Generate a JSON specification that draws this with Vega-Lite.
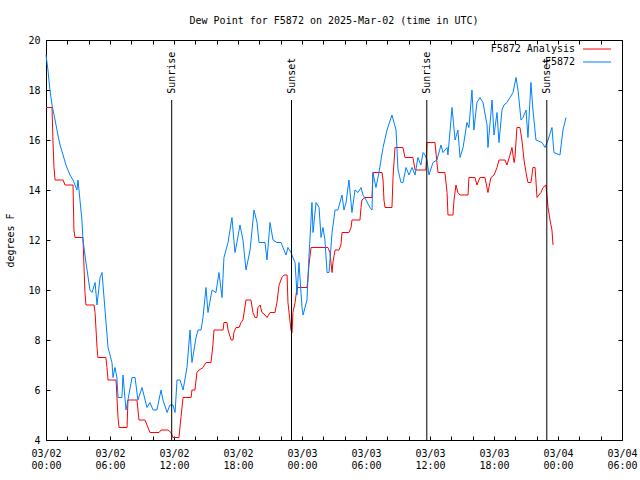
{
  "$schema": "https://vega.github.io/schema/vega-lite/v6.json",
  "width": 576,
  "height": 400,
  "autosize": {"type": "none"},
  "padding": {"left": 46, "top": 40, "right": 18, "bottom": 40},
  "background": "white",
  "title": {"text": "Dew Point for F5872 on 2025-Mar-02 (time in UTC)", "font": "DejaVu Sans Mono", "fontSize": 10, "fontWeight": "normal", "color": "black", "offset": 9, "anchor": "middle"},
  "config": {
    "view": {"stroke": "black", "strokeWidth": 1},
    "font": "DejaVu Sans Mono"
  },
  "datasets": {
    "ana": [
      {"t": "2025-03-02T00:00Z", "v": 17.3}, {"t": "2025-03-02T00:34Z", "v": 17.3}, {"t": "2025-03-02T00:39Z", "v": 16.0}, {"t": "2025-03-02T00:45Z", "v": 14.9}, {"t": "2025-03-02T00:51Z", "v": 14.4},
      {"t": "2025-03-02T01:36Z", "v": 14.4}, {"t": "2025-03-02T01:47Z", "v": 14.2}, {"t": "2025-03-02T02:32Z", "v": 14.2}, {"t": "2025-03-02T02:37Z", "v": 12.4}, {"t": "2025-03-02T02:43Z", "v": 12.1},
      {"t": "2025-03-02T03:28Z", "v": 12.1}, {"t": "2025-03-02T03:39Z", "v": 9.9}, {"t": "2025-03-02T03:45Z", "v": 9.4}, {"t": "2025-03-02T04:30Z", "v": 9.4}, {"t": "2025-03-02T04:36Z", "v": 9.1},
      {"t": "2025-03-02T04:47Z", "v": 7.7}, {"t": "2025-03-02T04:52Z", "v": 7.3}, {"t": "2025-03-02T05:37Z", "v": 7.3}, {"t": "2025-03-02T05:43Z", "v": 6.9}, {"t": "2025-03-02T05:49Z", "v": 6.4},
      {"t": "2025-03-02T06:34Z", "v": 6.4}, {"t": "2025-03-02T06:45Z", "v": 4.9}, {"t": "2025-03-02T06:51Z", "v": 4.5}, {"t": "2025-03-02T07:36Z", "v": 4.5}, {"t": "2025-03-02T07:41Z", "v": 5.6},
      {"t": "2025-03-02T08:32Z", "v": 5.6}, {"t": "2025-03-02T08:43Z", "v": 4.8}, {"t": "2025-03-02T09:17Z", "v": 4.8}, {"t": "2025-03-02T09:45Z", "v": 4.3}, {"t": "2025-03-02T10:36Z", "v": 4.3},
      {"t": "2025-03-02T10:47Z", "v": 4.4}, {"t": "2025-03-02T11:26Z", "v": 4.4}, {"t": "2025-03-02T11:43Z", "v": 4.3}, {"t": "2025-03-02T11:54Z", "v": 4.1}, {"t": "2025-03-02T12:28Z", "v": 4.1},
      {"t": "2025-03-02T12:39Z", "v": 4.9}, {"t": "2025-03-02T12:51Z", "v": 5.7}, {"t": "2025-03-02T13:36Z", "v": 5.7}, {"t": "2025-03-02T13:41Z", "v": 6.0}, {"t": "2025-03-02T13:58Z", "v": 6.0},
      {"t": "2025-03-02T14:09Z", "v": 6.7}, {"t": "2025-03-02T14:21Z", "v": 6.8}, {"t": "2025-03-02T14:43Z", "v": 6.9}, {"t": "2025-03-02T15:00Z", "v": 7.1}, {"t": "2025-03-02T15:28Z", "v": 7.1},
      {"t": "2025-03-02T15:39Z", "v": 7.8}, {"t": "2025-03-02T15:45Z", "v": 8.4}, {"t": "2025-03-02T16:36Z", "v": 8.4}, {"t": "2025-03-02T16:41Z", "v": 8.7}, {"t": "2025-03-02T16:58Z", "v": 8.7},
      {"t": "2025-03-02T17:04Z", "v": 8.4}, {"t": "2025-03-02T17:21Z", "v": 8.0}, {"t": "2025-03-02T17:32Z", "v": 8.0}, {"t": "2025-03-02T17:37Z", "v": 8.3}, {"t": "2025-03-02T17:49Z", "v": 8.5},
      {"t": "2025-03-02T18:06Z", "v": 8.5}, {"t": "2025-03-02T18:17Z", "v": 8.7}, {"t": "2025-03-02T18:28Z", "v": 8.8}, {"t": "2025-03-02T18:45Z", "v": 9.6}, {"t": "2025-03-02T19:13Z", "v": 9.6},
      {"t": "2025-03-02T19:24Z", "v": 9.1}, {"t": "2025-03-02T19:36Z", "v": 8.9}, {"t": "2025-03-02T19:47Z", "v": 8.9}, {"t": "2025-03-02T19:52Z", "v": 9.3}, {"t": "2025-03-02T20:04Z", "v": 9.4},
      {"t": "2025-03-02T20:15Z", "v": 9.1}, {"t": "2025-03-02T20:32Z", "v": 9.0}, {"t": "2025-03-02T20:43Z", "v": 8.9}, {"t": "2025-03-02T21:00Z", "v": 9.1}, {"t": "2025-03-02T21:28Z", "v": 9.1},
      {"t": "2025-03-02T21:39Z", "v": 9.5}, {"t": "2025-03-02T21:51Z", "v": 10.2}, {"t": "2025-03-02T22:07Z", "v": 10.5}, {"t": "2025-03-02T22:19Z", "v": 10.6}, {"t": "2025-03-02T22:36Z", "v": 10.6},
      {"t": "2025-03-02T22:41Z", "v": 9.5}, {"t": "2025-03-02T22:58Z", "v": 8.4}, {"t": "2025-03-02T23:04Z", "v": 8.3}, {"t": "2025-03-02T23:09Z", "v": 9.1}, {"t": "2025-03-02T23:21Z", "v": 9.5},
      {"t": "2025-03-02T23:32Z", "v": 10.1}, {"t": "2025-03-03T00:28Z", "v": 10.1}, {"t": "2025-03-03T00:34Z", "v": 10.5}, {"t": "2025-03-03T00:39Z", "v": 11.0}, {"t": "2025-03-03T00:51Z", "v": 11.7},
      {"t": "2025-03-03T02:26Z", "v": 11.7}, {"t": "2025-03-03T02:37Z", "v": 11.5}, {"t": "2025-03-03T02:49Z", "v": 10.7}, {"t": "2025-03-03T02:54Z", "v": 11.1}, {"t": "2025-03-03T03:06Z", "v": 11.6},
      {"t": "2025-03-03T03:28Z", "v": 11.6}, {"t": "2025-03-03T03:39Z", "v": 11.8}, {"t": "2025-03-03T03:45Z", "v": 12.3}, {"t": "2025-03-03T04:24Z", "v": 12.3}, {"t": "2025-03-03T04:36Z", "v": 12.5},
      {"t": "2025-03-03T04:41Z", "v": 12.8}, {"t": "2025-03-03T05:26Z", "v": 12.8}, {"t": "2025-03-03T05:32Z", "v": 13.3}, {"t": "2025-03-03T05:37Z", "v": 13.6}, {"t": "2025-03-03T05:54Z", "v": 13.7},
      {"t": "2025-03-03T06:34Z", "v": 13.7}, {"t": "2025-03-03T06:39Z", "v": 14.7}, {"t": "2025-03-03T07:30Z", "v": 14.7}, {"t": "2025-03-03T07:36Z", "v": 14.4}, {"t": "2025-03-03T07:41Z", "v": 13.6},
      {"t": "2025-03-03T07:47Z", "v": 13.3}, {"t": "2025-03-03T08:26Z", "v": 13.3}, {"t": "2025-03-03T08:32Z", "v": 14.5}, {"t": "2025-03-03T08:43Z", "v": 15.7}, {"t": "2025-03-03T09:28Z", "v": 15.7},
      {"t": "2025-03-03T09:39Z", "v": 15.3}, {"t": "2025-03-03T10:24Z", "v": 15.3}, {"t": "2025-03-03T10:36Z", "v": 14.8}, {"t": "2025-03-03T11:37Z", "v": 14.8}, {"t": "2025-03-03T11:43Z", "v": 15.9},
      {"t": "2025-03-03T12:28Z", "v": 15.9}, {"t": "2025-03-03T12:39Z", "v": 15.1}, {"t": "2025-03-03T12:45Z", "v": 14.7}, {"t": "2025-03-03T13:24Z", "v": 14.7}, {"t": "2025-03-03T13:36Z", "v": 13.9},
      {"t": "2025-03-03T13:41Z", "v": 13.0}, {"t": "2025-03-03T14:09Z", "v": 13.0}, {"t": "2025-03-03T14:15Z", "v": 13.6}, {"t": "2025-03-03T14:26Z", "v": 14.2}, {"t": "2025-03-03T14:37Z", "v": 13.9},
      {"t": "2025-03-03T14:49Z", "v": 13.8}, {"t": "2025-03-03T15:34Z", "v": 13.8}, {"t": "2025-03-03T15:39Z", "v": 14.5}, {"t": "2025-03-03T16:13Z", "v": 14.5}, {"t": "2025-03-03T16:24Z", "v": 14.2},
      {"t": "2025-03-03T16:41Z", "v": 14.5}, {"t": "2025-03-03T17:09Z", "v": 14.5}, {"t": "2025-03-03T17:26Z", "v": 13.9}, {"t": "2025-03-03T17:37Z", "v": 14.3}, {"t": "2025-03-03T17:43Z", "v": 14.5},
      {"t": "2025-03-03T18:00Z", "v": 14.6}, {"t": "2025-03-03T18:17Z", "v": 14.9}, {"t": "2025-03-03T18:28Z", "v": 15.2}, {"t": "2025-03-03T19:02Z", "v": 15.2}, {"t": "2025-03-03T19:13Z", "v": 15.0},
      {"t": "2025-03-03T19:30Z", "v": 15.4}, {"t": "2025-03-03T19:41Z", "v": 15.7}, {"t": "2025-03-03T19:53Z", "v": 15.1}, {"t": "2025-03-03T19:58Z", "v": 15.3}, {"t": "2025-03-03T20:09Z", "v": 16.5},
      {"t": "2025-03-03T20:26Z", "v": 16.5}, {"t": "2025-03-03T20:37Z", "v": 16.0}, {"t": "2025-03-03T20:49Z", "v": 15.2}, {"t": "2025-03-03T21:00Z", "v": 14.7}, {"t": "2025-03-03T21:11Z", "v": 14.3},
      {"t": "2025-03-03T21:28Z", "v": 14.3}, {"t": "2025-03-03T21:39Z", "v": 14.9}, {"t": "2025-03-03T21:51Z", "v": 14.9}, {"t": "2025-03-03T22:02Z", "v": 13.7}, {"t": "2025-03-03T22:24Z", "v": 13.9},
      {"t": "2025-03-03T22:36Z", "v": 14.1}, {"t": "2025-03-03T22:52Z", "v": 14.2}, {"t": "2025-03-03T23:04Z", "v": 13.3}, {"t": "2025-03-03T23:15Z", "v": 12.8}, {"t": "2025-03-03T23:26Z", "v": 12.4},
      {"t": "2025-03-03T23:32Z", "v": 11.8}
    ],
    "obs": [
      {"t": "2025-03-02T00:00Z", "v": 19.4}, {"t": "2025-03-02T00:11Z", "v": 18.8}, {"t": "2025-03-02T00:22Z", "v": 18.0}, {"t": "2025-03-02T00:34Z", "v": 17.4}, {"t": "2025-03-02T00:51Z", "v": 16.8},
      {"t": "2025-03-02T01:07Z", "v": 16.2}, {"t": "2025-03-02T01:19Z", "v": 15.8}, {"t": "2025-03-02T01:36Z", "v": 15.4}, {"t": "2025-03-02T01:52Z", "v": 15.0}, {"t": "2025-03-02T02:15Z", "v": 14.6},
      {"t": "2025-03-02T02:32Z", "v": 14.4}, {"t": "2025-03-02T02:43Z", "v": 14.2}, {"t": "2025-03-02T02:54Z", "v": 14.0}, {"t": "2025-03-02T03:00Z", "v": 14.4}, {"t": "2025-03-02T03:11Z", "v": 13.6},
      {"t": "2025-03-02T03:22Z", "v": 12.8}, {"t": "2025-03-02T03:28Z", "v": 12.0}, {"t": "2025-03-02T03:39Z", "v": 11.4}, {"t": "2025-03-02T03:51Z", "v": 10.8}, {"t": "2025-03-02T04:07Z", "v": 10.0},
      {"t": "2025-03-02T04:19Z", "v": 9.9}, {"t": "2025-03-02T04:36Z", "v": 10.3}, {"t": "2025-03-02T04:47Z", "v": 9.4}, {"t": "2025-03-02T05:04Z", "v": 10.5}, {"t": "2025-03-02T05:15Z", "v": 10.7},
      {"t": "2025-03-02T05:32Z", "v": 9.2}, {"t": "2025-03-02T05:49Z", "v": 7.7}, {"t": "2025-03-02T06:00Z", "v": 7.4}, {"t": "2025-03-02T06:11Z", "v": 7.1}, {"t": "2025-03-02T06:17Z", "v": 6.5},
      {"t": "2025-03-02T06:28Z", "v": 6.9}, {"t": "2025-03-02T06:39Z", "v": 6.5}, {"t": "2025-03-02T06:45Z", "v": 5.7}, {"t": "2025-03-02T07:07Z", "v": 5.7}, {"t": "2025-03-02T07:13Z", "v": 6.6},
      {"t": "2025-03-02T07:30Z", "v": 5.2}, {"t": "2025-03-02T07:41Z", "v": 5.6}, {"t": "2025-03-02T08:04Z", "v": 6.5}, {"t": "2025-03-02T08:21Z", "v": 6.5}, {"t": "2025-03-02T08:37Z", "v": 5.6},
      {"t": "2025-03-02T09:00Z", "v": 6.1}, {"t": "2025-03-02T09:28Z", "v": 5.3}, {"t": "2025-03-02T09:45Z", "v": 5.5}, {"t": "2025-03-02T10:02Z", "v": 5.2}, {"t": "2025-03-02T10:24Z", "v": 5.2},
      {"t": "2025-03-02T10:47Z", "v": 6.0}, {"t": "2025-03-02T10:58Z", "v": 5.6}, {"t": "2025-03-02T11:21Z", "v": 5.1}, {"t": "2025-03-02T11:37Z", "v": 5.4}, {"t": "2025-03-02T11:54Z", "v": 5.4},
      {"t": "2025-03-02T12:06Z", "v": 5.1}, {"t": "2025-03-02T12:17Z", "v": 6.4}, {"t": "2025-03-02T12:34Z", "v": 6.4}, {"t": "2025-03-02T12:51Z", "v": 6.0}, {"t": "2025-03-02T13:13Z", "v": 6.9},
      {"t": "2025-03-02T13:30Z", "v": 8.4}, {"t": "2025-03-02T13:41Z", "v": 7.1}, {"t": "2025-03-02T14:04Z", "v": 8.1}, {"t": "2025-03-02T14:15Z", "v": 8.4}, {"t": "2025-03-02T14:32Z", "v": 8.4},
      {"t": "2025-03-02T14:43Z", "v": 8.9}, {"t": "2025-03-02T15:00Z", "v": 10.1}, {"t": "2025-03-02T15:11Z", "v": 9.1}, {"t": "2025-03-02T15:34Z", "v": 10.0}, {"t": "2025-03-02T15:56Z", "v": 9.9},
      {"t": "2025-03-02T16:13Z", "v": 10.7}, {"t": "2025-03-02T16:30Z", "v": 9.7}, {"t": "2025-03-02T16:41Z", "v": 11.3}, {"t": "2025-03-02T17:04Z", "v": 11.9}, {"t": "2025-03-02T17:26Z", "v": 12.9},
      {"t": "2025-03-02T17:43Z", "v": 11.5}, {"t": "2025-03-02T17:54Z", "v": 11.9}, {"t": "2025-03-02T18:11Z", "v": 12.6}, {"t": "2025-03-02T18:28Z", "v": 12.0}, {"t": "2025-03-02T18:45Z", "v": 10.8},
      {"t": "2025-03-02T19:08Z", "v": 11.6}, {"t": "2025-03-02T19:19Z", "v": 12.4}, {"t": "2025-03-02T19:30Z", "v": 13.2}, {"t": "2025-03-02T19:47Z", "v": 12.7}, {"t": "2025-03-02T19:58Z", "v": 11.9},
      {"t": "2025-03-02T20:32Z", "v": 11.9}, {"t": "2025-03-02T20:43Z", "v": 11.2}, {"t": "2025-03-02T21:00Z", "v": 12.7}, {"t": "2025-03-02T21:17Z", "v": 12.0}, {"t": "2025-03-02T21:39Z", "v": 11.9},
      {"t": "2025-03-02T22:02Z", "v": 11.9}, {"t": "2025-03-02T22:30Z", "v": 11.4}, {"t": "2025-03-02T22:41Z", "v": 11.7}, {"t": "2025-03-02T22:58Z", "v": 11.5}, {"t": "2025-03-02T23:09Z", "v": 11.3},
      {"t": "2025-03-02T23:21Z", "v": 11.1}, {"t": "2025-03-02T23:32Z", "v": 9.8}, {"t": "2025-03-02T23:43Z", "v": 11.1}, {"t": "2025-03-03T00:00Z", "v": 9.3}, {"t": "2025-03-03T00:06Z", "v": 9.0},
      {"t": "2025-03-03T00:28Z", "v": 9.6}, {"t": "2025-03-03T00:39Z", "v": 11.3}, {"t": "2025-03-03T00:56Z", "v": 13.5}, {"t": "2025-03-03T01:02Z", "v": 12.3}, {"t": "2025-03-03T01:19Z", "v": 13.5},
      {"t": "2025-03-03T01:36Z", "v": 13.3}, {"t": "2025-03-03T01:47Z", "v": 12.1}, {"t": "2025-03-03T01:58Z", "v": 12.5}, {"t": "2025-03-03T02:09Z", "v": 12.0}, {"t": "2025-03-03T02:21Z", "v": 10.7},
      {"t": "2025-03-03T02:32Z", "v": 10.7}, {"t": "2025-03-03T02:49Z", "v": 12.3}, {"t": "2025-03-03T03:06Z", "v": 13.2}, {"t": "2025-03-03T03:22Z", "v": 13.2}, {"t": "2025-03-03T03:45Z", "v": 13.8},
      {"t": "2025-03-03T03:56Z", "v": 13.2}, {"t": "2025-03-03T04:08Z", "v": 13.5}, {"t": "2025-03-03T04:24Z", "v": 14.4}, {"t": "2025-03-03T04:41Z", "v": 13.1}, {"t": "2025-03-03T04:58Z", "v": 14.0},
      {"t": "2025-03-03T05:15Z", "v": 13.9}, {"t": "2025-03-03T05:32Z", "v": 14.1}, {"t": "2025-03-03T05:43Z", "v": 13.8}, {"t": "2025-03-03T06:00Z", "v": 13.6}, {"t": "2025-03-03T06:22Z", "v": 13.3},
      {"t": "2025-03-03T06:34Z", "v": 13.2}, {"t": "2025-03-03T06:39Z", "v": 14.7}, {"t": "2025-03-03T06:56Z", "v": 14.1}, {"t": "2025-03-03T07:13Z", "v": 14.7}, {"t": "2025-03-03T07:36Z", "v": 15.7},
      {"t": "2025-03-03T07:58Z", "v": 16.4}, {"t": "2025-03-03T08:26Z", "v": 17.0}, {"t": "2025-03-03T08:49Z", "v": 16.4}, {"t": "2025-03-03T09:00Z", "v": 14.8}, {"t": "2025-03-03T09:17Z", "v": 14.3},
      {"t": "2025-03-03T09:28Z", "v": 14.3}, {"t": "2025-03-03T09:45Z", "v": 14.9}, {"t": "2025-03-03T10:02Z", "v": 14.6}, {"t": "2025-03-03T10:19Z", "v": 14.9}, {"t": "2025-03-03T10:36Z", "v": 14.6},
      {"t": "2025-03-03T10:52Z", "v": 15.3}, {"t": "2025-03-03T11:09Z", "v": 15.0}, {"t": "2025-03-03T11:21Z", "v": 15.5}, {"t": "2025-03-03T11:32Z", "v": 15.4}, {"t": "2025-03-03T11:43Z", "v": 15.2},
      {"t": "2025-03-03T11:54Z", "v": 14.6}, {"t": "2025-03-03T12:17Z", "v": 15.1}, {"t": "2025-03-03T12:39Z", "v": 15.2}, {"t": "2025-03-03T13:02Z", "v": 15.8}, {"t": "2025-03-03T13:13Z", "v": 15.5},
      {"t": "2025-03-03T13:36Z", "v": 15.7}, {"t": "2025-03-03T13:41Z", "v": 15.4}, {"t": "2025-03-03T14:04Z", "v": 17.3}, {"t": "2025-03-03T14:21Z", "v": 16.0}, {"t": "2025-03-03T14:37Z", "v": 16.4},
      {"t": "2025-03-03T14:49Z", "v": 15.3}, {"t": "2025-03-03T15:06Z", "v": 15.7}, {"t": "2025-03-03T15:28Z", "v": 16.7}, {"t": "2025-03-03T15:39Z", "v": 16.5}, {"t": "2025-03-03T15:56Z", "v": 18.0},
      {"t": "2025-03-03T16:07Z", "v": 16.4}, {"t": "2025-03-03T16:24Z", "v": 17.5}, {"t": "2025-03-03T16:41Z", "v": 17.7}, {"t": "2025-03-03T16:58Z", "v": 17.5}, {"t": "2025-03-03T17:21Z", "v": 16.6},
      {"t": "2025-03-03T17:26Z", "v": 15.7}, {"t": "2025-03-03T17:49Z", "v": 17.6}, {"t": "2025-03-03T18:00Z", "v": 16.2}, {"t": "2025-03-03T18:17Z", "v": 17.1}, {"t": "2025-03-03T18:28Z", "v": 15.9},
      {"t": "2025-03-03T18:45Z", "v": 17.2}, {"t": "2025-03-03T18:56Z", "v": 17.4}, {"t": "2025-03-03T19:13Z", "v": 17.5}, {"t": "2025-03-03T19:30Z", "v": 17.7}, {"t": "2025-03-03T19:47Z", "v": 17.9},
      {"t": "2025-03-03T20:04Z", "v": 18.5}, {"t": "2025-03-03T20:15Z", "v": 18.0}, {"t": "2025-03-03T20:32Z", "v": 16.8}, {"t": "2025-03-03T20:43Z", "v": 16.9}, {"t": "2025-03-03T21:00Z", "v": 17.2},
      {"t": "2025-03-03T21:11Z", "v": 16.1}, {"t": "2025-03-03T21:28Z", "v": 18.3}, {"t": "2025-03-03T21:39Z", "v": 17.2}, {"t": "2025-03-03T21:56Z", "v": 16.0}, {"t": "2025-03-03T22:30Z", "v": 15.9},
      {"t": "2025-03-03T22:47Z", "v": 15.7}, {"t": "2025-03-03T23:04Z", "v": 16.0}, {"t": "2025-03-03T23:26Z", "v": 16.5}, {"t": "2025-03-03T23:37Z", "v": 15.5}, {"t": "2025-03-04T00:11Z", "v": 15.4},
      {"t": "2025-03-04T00:28Z", "v": 16.4}, {"t": "2025-03-04T00:45Z", "v": 16.9}
    ],
    "sun": [
      {"t": "2025-03-02T11:47Z", "label": "Sunrise"},
      {"t": "2025-03-02T23:01Z", "label": "Sunset"},
      {"t": "2025-03-03T11:42Z", "label": "Sunrise"},
      {"t": "2025-03-03T22:57Z", "label": "Sunset"}
    ]
  },
  "resolve": {"axis": {"x": "independent", "y": "independent"}},
  "layer": [
    {
      "data": {"name": "ana"},
      "mark": {"type": "line", "strokeWidth": 1, "interpolate": "linear"},
      "encoding": {
        "x": {
          "field": "t", "type": "temporal",
          "scale": {"type": "utc", "domain": [{"year": 2025, "month": 3, "date": 2, "hours": 0, "utc": true}, {"year": 2025, "month": 3, "date": 4, "hours": 6, "utc": true}], "nice": false},
          "axis": {
            "orient": "bottom", "title": null, "domain": false, "grid": false,
            "values": [
              {"year": 2025, "month": 3, "date": 2, "hours": 0, "utc": true}, {"year": 2025, "month": 3, "date": 2, "hours": 2, "utc": true},
              {"year": 2025, "month": 3, "date": 2, "hours": 4, "utc": true}, {"year": 2025, "month": 3, "date": 2, "hours": 6, "utc": true},
              {"year": 2025, "month": 3, "date": 2, "hours": 8, "utc": true}, {"year": 2025, "month": 3, "date": 2, "hours": 10, "utc": true},
              {"year": 2025, "month": 3, "date": 2, "hours": 12, "utc": true}, {"year": 2025, "month": 3, "date": 2, "hours": 14, "utc": true},
              {"year": 2025, "month": 3, "date": 2, "hours": 16, "utc": true}, {"year": 2025, "month": 3, "date": 2, "hours": 18, "utc": true},
              {"year": 2025, "month": 3, "date": 2, "hours": 20, "utc": true}, {"year": 2025, "month": 3, "date": 2, "hours": 22, "utc": true},
              {"year": 2025, "month": 3, "date": 3, "hours": 0, "utc": true}, {"year": 2025, "month": 3, "date": 3, "hours": 2, "utc": true},
              {"year": 2025, "month": 3, "date": 3, "hours": 4, "utc": true}, {"year": 2025, "month": 3, "date": 3, "hours": 6, "utc": true},
              {"year": 2025, "month": 3, "date": 3, "hours": 8, "utc": true}, {"year": 2025, "month": 3, "date": 3, "hours": 10, "utc": true},
              {"year": 2025, "month": 3, "date": 3, "hours": 12, "utc": true}, {"year": 2025, "month": 3, "date": 3, "hours": 14, "utc": true},
              {"year": 2025, "month": 3, "date": 3, "hours": 16, "utc": true}, {"year": 2025, "month": 3, "date": 3, "hours": 18, "utc": true},
              {"year": 2025, "month": 3, "date": 3, "hours": 20, "utc": true}, {"year": 2025, "month": 3, "date": 3, "hours": 22, "utc": true},
              {"year": 2025, "month": 3, "date": 4, "hours": 0, "utc": true}, {"year": 2025, "month": 3, "date": 4, "hours": 2, "utc": true},
              {"year": 2025, "month": 3, "date": 4, "hours": 4, "utc": true}, {"year": 2025, "month": 3, "date": 4, "hours": 6, "utc": true}
            ],
            "labelExpr": "utcFormat(datum.value, '%H') % 6 == 0 ? [utcFormat(datum.value, '%m/%d'), utcFormat(datum.value, '%H:%M')] : ''",
            "tickSize": -4, "tickColor": "black", "tickWidth": 1,
            "labelFont": "DejaVu Sans Mono", "labelFontSize": 10, "labelColor": "black",
            "labelPadding": 12, "labelLineHeight": 12, "labelFlush": false, "labelOverlap": false
          }
        },
        "y": {
          "field": "v", "type": "quantitative",
          "scale": {"domain": [4, 20], "nice": false, "zero": false},
          "axis": {
            "orient": "left", "title": "degrees F", "domain": false, "grid": false,
            "values": [4, 6, 8, 10, 12, 14, 16, 18, 20],
            "tickSize": -4, "tickColor": "black",
            "labelFont": "DejaVu Sans Mono", "labelFontSize": 10, "labelColor": "black", "labelPadding": 10,
            "titleFont": "DejaVu Sans Mono", "titleFontSize": 10, "titleFontWeight": "normal", "titleColor": "black", "titlePadding": 12
          }
        },
        "color": {
          "datum": "F5872 Analysis",
          "scale": {"domain": ["F5872 Analysis", "F5872"], "range": ["#ff0000", "#0080ff"]},
          "legend": {
            "title": null, "orient": "none", "legendX": 546, "legendY": 4,
            "symbolType": "M-4,0H4", "symbolSize": 49, "symbolStrokeWidth": 1,
            "labelFont": "DejaVu Sans Mono", "labelFontSize": 10, "labelColor": "black",
            "labelAlign": "right", "labelOffset": -27, "rowPadding": 3, "padding": 0
          }
        }
      }
    },
    {
      "data": {"name": "obs"},
      "mark": {"type": "line", "strokeWidth": 1, "interpolate": "linear"},
      "encoding": {
        "x": {"field": "t", "type": "temporal", "axis": null},
        "y": {"field": "v", "type": "quantitative", "axis": null},
        "color": {"datum": "F5872"}
      }
    },
    {
      "data": {"name": "sun"},
      "mark": {"type": "rule", "color": "black", "strokeWidth": 1},
      "encoding": {
        "x": {
          "field": "t", "type": "temporal",
          "axis": {
            "orient": "top", "title": null, "labels": false, "domain": false, "grid": false,
            "values": [
              {"year": 2025, "month": 3, "date": 2, "hours": 0, "utc": true}, {"year": 2025, "month": 3, "date": 2, "hours": 2, "utc": true},
              {"year": 2025, "month": 3, "date": 2, "hours": 4, "utc": true}, {"year": 2025, "month": 3, "date": 2, "hours": 6, "utc": true},
              {"year": 2025, "month": 3, "date": 2, "hours": 8, "utc": true}, {"year": 2025, "month": 3, "date": 2, "hours": 10, "utc": true},
              {"year": 2025, "month": 3, "date": 2, "hours": 12, "utc": true}, {"year": 2025, "month": 3, "date": 2, "hours": 14, "utc": true},
              {"year": 2025, "month": 3, "date": 2, "hours": 16, "utc": true}, {"year": 2025, "month": 3, "date": 2, "hours": 18, "utc": true},
              {"year": 2025, "month": 3, "date": 2, "hours": 20, "utc": true}, {"year": 2025, "month": 3, "date": 2, "hours": 22, "utc": true},
              {"year": 2025, "month": 3, "date": 3, "hours": 0, "utc": true}, {"year": 2025, "month": 3, "date": 3, "hours": 2, "utc": true},
              {"year": 2025, "month": 3, "date": 3, "hours": 4, "utc": true}, {"year": 2025, "month": 3, "date": 3, "hours": 6, "utc": true},
              {"year": 2025, "month": 3, "date": 3, "hours": 8, "utc": true}, {"year": 2025, "month": 3, "date": 3, "hours": 10, "utc": true},
              {"year": 2025, "month": 3, "date": 3, "hours": 12, "utc": true}, {"year": 2025, "month": 3, "date": 3, "hours": 14, "utc": true},
              {"year": 2025, "month": 3, "date": 3, "hours": 16, "utc": true}, {"year": 2025, "month": 3, "date": 3, "hours": 18, "utc": true},
              {"year": 2025, "month": 3, "date": 3, "hours": 20, "utc": true}, {"year": 2025, "month": 3, "date": 3, "hours": 22, "utc": true},
              {"year": 2025, "month": 3, "date": 4, "hours": 0, "utc": true}, {"year": 2025, "month": 3, "date": 4, "hours": 2, "utc": true},
              {"year": 2025, "month": 3, "date": 4, "hours": 4, "utc": true}, {"year": 2025, "month": 3, "date": 4, "hours": 6, "utc": true}
            ],
            "tickSize": -4, "tickColor": "black"
          }
        },
        "y": {
          "datum": 17.6, "type": "quantitative",
          "axis": {"orient": "right", "title": null, "labels": false, "domain": false, "grid": false, "values": [4, 6, 8, 10, 12, 14, 16, 18, 20], "tickSize": -4, "tickColor": "black"}
        },
        "y2": {"datum": 4}
      }
    },
    {
      "data": {"name": "sun"},
      "mark": {"type": "text", "angle": 270, "align": "left", "baseline": "middle", "font": "DejaVu Sans Mono", "fontSize": 10, "color": "black"},
      "encoding": {
        "x": {"field": "t", "type": "temporal", "axis": null},
        "y": {"datum": 17.85, "type": "quantitative", "axis": null},
        "text": {"field": "label"}
      }
    }
  ]
}
